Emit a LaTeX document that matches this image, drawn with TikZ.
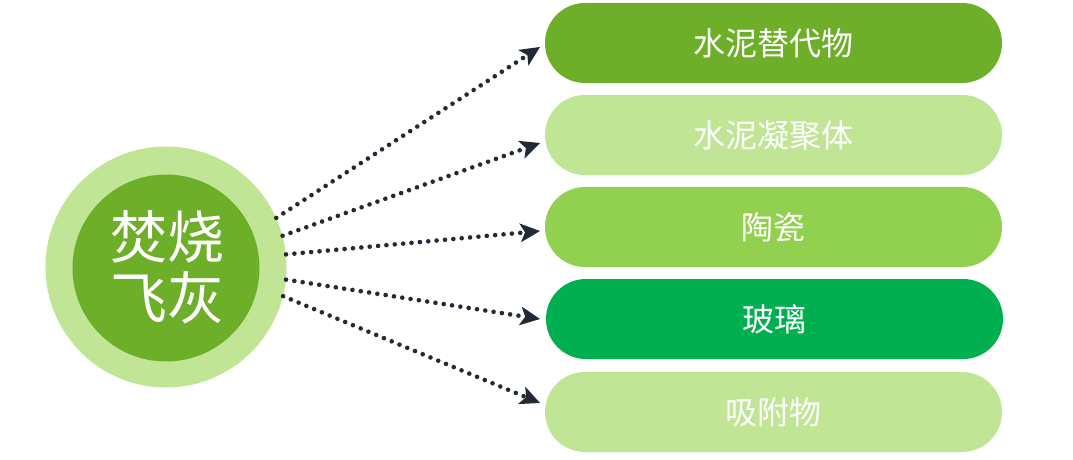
\documentclass[tikz,border=0pt]{standalone}
\usepackage{fontspec}
\newfontfamily\cjk{Noto Sans CJK SC}
\usetikzlibrary{arrows.meta}
\definecolor{dkgreen}{HTML}{6EAF2A}
\definecolor{ltgreen}{HTML}{C0E594}
\definecolor{midgreen}{HTML}{92D050}
\definecolor{brgreen}{HTML}{00B050}
\definecolor{navy}{HTML}{222A35}
\tikzset{
  pill/.style={rounded corners=39.9pt, minimum width=457pt, minimum height=80pt, inner sep=0pt,
    text=white, font=\cjk\fontsize{32}{38}\selectfont},
  dotarrow/.style={draw=navy, line width=4.6pt, line cap=round, dash pattern=on 0pt off 8.4pt,
    -{Stealth[length=20pt,width=19pt,inset=5pt,line width=0pt]}}
}
\begin{document}
\begin{tikzpicture}[x=1pt,y=1pt]
\useasboundingbox (0,0) rectangle (1073,459);
\node[circle, fill=ltgreen, minimum size=241pt, inner sep=0pt] (outer) at (166,192) {};
\node[circle, fill=dkgreen, minimum size=187pt, inner sep=0pt] (inner) at (166,191) {};
\node[text=white, font=\cjk\fontsize{57}{61}\selectfont, align=center, inner sep=0pt] (title) at (167,192) {焚烧\\飞灰};
\node[pill, fill=dkgreen] (b1) at (773.5,416) {水泥替代物};
\node[pill, fill=ltgreen] (b2) at (773.5,324) {水泥凝聚体};
\node[pill, fill=midgreen] (b3) at (773.5,232) {陶瓷};
\node[pill, fill=brgreen] (b4) at (774.5,140) {玻璃};
\node[pill, fill=ltgreen] (b5) at (773.5,47) {吸附物};
\coordinate (t1) at (540,412);
\coordinate (t2) at (540,316);
\coordinate (t3) at (540,228);
\coordinate (t4) at (540,140);
\coordinate (t5) at (540,56);
\draw[dotarrow] (outer.24) -- (t1);
\draw[dotarrow] (outer.15) -- (t2);
\draw[dotarrow] (outer.6) -- (t3);
\draw[dotarrow] (outer.-6) -- (t4);
\draw[dotarrow] (outer.-14.3) -- (t5);
\end{tikzpicture}
\end{document}
